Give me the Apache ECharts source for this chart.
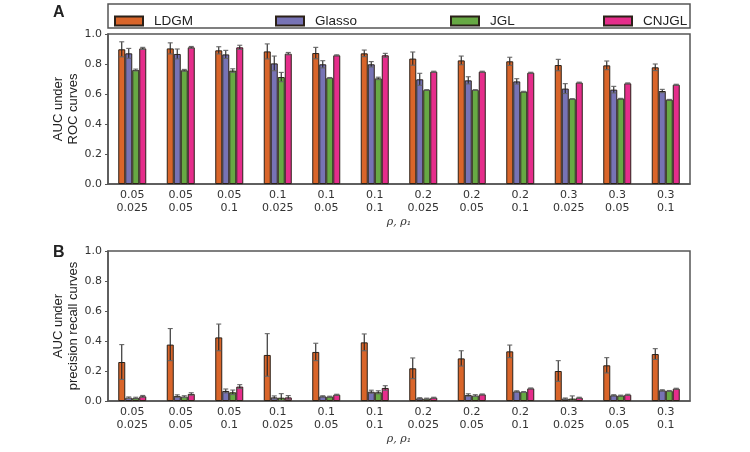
<!DOCTYPE html>
<html><head><meta charset="utf-8">
<script src="https://cdn.jsdelivr.net/npm/echarts@6/dist/echarts.min.js"></script>
<style>html,body{margin:0;padding:0;background:#fff}#c{width:750px;height:452px}</style>
</head><body><div id="c"></div>
<script>
const categories = ['0.05\n0.025','0.05\n0.05','0.05\n0.1','0.1\n0.025','0.1\n0.05','0.1\n0.1','0.2\n0.025','0.2\n0.05','0.2\n0.1','0.3\n0.025','0.3\n0.05','0.3\n0.1'];
const methods = ['LDGM','Glasso','JGL','CNJGL'];
const yTicks = [0, 0.2, 0.4, 0.6, 0.8, 1.0];

// Panel A: AUC under ROC curves (mean, error)
const rocLDGM      = [0.898,0.904,0.891,0.884,0.873,0.871,0.836,0.824,0.818,0.793,0.791,0.778];
const rocLDGMErr   = [0.050,0.037,0.024,0.050,0.038,0.022,0.044,0.029,0.027,0.038,0.029,0.022];
const rocGlasso    = [0.871,0.867,0.864,0.804,0.798,0.798,0.698,0.691,0.684,0.636,0.629,0.620];
const rocGlassoErr = [0.033,0.033,0.027,0.049,0.024,0.018,0.040,0.024,0.018,0.033,0.022,0.011];
const rocJGL       = [0.760,0.758,0.756,0.713,0.707,0.704,0.627,0.627,0.616,0.567,0.569,0.562];
const rocJGLErr    = [0.006,0.006,0.012,0.031,0.003,0.008,0.002,0.002,0.002,0.002,0.002,0.002];
const rocCNJGL     = [0.904,0.911,0.911,0.869,0.858,0.858,0.749,0.749,0.742,0.676,0.671,0.662];
const rocCNJGLErr  = [0.007,0.006,0.014,0.008,0.003,0.013,0.003,0.003,0.003,0.003,0.003,0.003];

// Panel B: AUC under precision recall curves (mean, error)
const prLDGM       = [0.260,0.376,0.424,0.307,0.327,0.391,0.218,0.284,0.331,0.200,0.238,0.313];
const prLDGMErr    = [0.116,0.107,0.089,0.142,0.058,0.056,0.069,0.051,0.042,0.069,0.051,0.036];
const prGlasso     = [0.022,0.033,0.067,0.024,0.031,0.062,0.018,0.040,0.064,0.016,0.038,0.071];
const prGlassoErr  = [0.005,0.008,0.013,0.010,0.004,0.010,0.004,0.008,0.004,0.004,0.004,0.004];
const prJGL        = [0.020,0.029,0.058,0.022,0.029,0.058,0.016,0.036,0.060,0.016,0.036,0.067];
const prJGLErr     = [0.005,0.006,0.015,0.027,0.003,0.010,0.003,0.006,0.003,0.018,0.003,0.003];
const prCNJGL      = [0.031,0.047,0.096,0.024,0.042,0.087,0.022,0.044,0.084,0.022,0.042,0.082];
const prCNJGLErr   = [0.006,0.008,0.013,0.012,0.003,0.015,0.003,0.003,0.003,0.003,0.003,0.003];

const colors = ['#d9652a','#7773b5','#67a944','#e52d8b'];
const BW = 7;

const chart = echarts.init(document.getElementById('c'), null, {renderer:'canvas'});

function errRender(k){
  return function(params, api){
    const i = api.value(0), m = api.value(1), e = api.value(2);
    const c = api.coord([i, m]);
    const x = c[0] + (k - 1.5) * BW;
    const yT = api.coord([i, m + e])[1];
    const yB = api.coord([i, Math.max(0, m - e)])[1];
    const s = {stroke:'#222', lineWidth:1.1};
    const cs = {stroke:'#666', lineWidth:1.1};
    return {type:'group', children:[
      {type:'line', shape:{x1:x,y1:yT,x2:x,y2:yB}, style:s},
      {type:'line', shape:{x1:x-2.5,y1:yT,x2:x+2.5,y2:yT}, style:cs},
      {type:'line', shape:{x1:x-2.5,y1:yB,x2:x+2.5,y2:yB}, style:cs}
    ]};
  };
}

const panels = [
  {means:[rocLDGM,rocGlasso,rocJGL,rocCNJGL], errs:[rocLDGMErr,rocGlassoErr,rocJGLErr,rocCNJGLErr]},
  {means:[prLDGM,prGlasso,prJGL,prCNJGL], errs:[prLDGMErr,prGlassoErr,prJGLErr,prCNJGLErr]}
];

const series = [];
panels.forEach((p, pi) => {
  methods.forEach((name, k) => {
    series.push({
      type:'bar', name:name, xAxisIndex:pi, yAxisIndex:pi,
      data:p.means[k], barWidth:BW, barGap:'0%',
      itemStyle:{color:colors[k], borderColor:'#2b2118', borderWidth:1},
      emphasis:{disabled:true}, z:2
    });
  });
  methods.forEach((name, k) => {
    series.push({
      type:'custom', name:'err'+pi+k, xAxisIndex:pi, yAxisIndex:pi,
      data:p.means[k].map((v,i)=>[i, v, p.errs[k][i]]),
      renderItem:errRender(k), z:5, silent:true
    });
  });
});

const fontTick = 'DejaVu Sans';
const fontText = 'Liberation Sans';
const grids = [
  {left:108, right:60, top:34, height:150},
  {left:108, right:60, top:251, height:150}
];
const yNames = ['AUC under\nROC curves', 'AUC under\nprecision recall curves'];

const legendLefts = [109, 270, 445, 598];

const option = {
  animation:false,
  backgroundColor:'#fff',
  grid: grids.map(g => Object.assign({show:true, borderColor:'#555', borderWidth:1.5, backgroundColor:'transparent'}, g)),
  xAxis: [0,1].map(i => ({
    type:'category', gridIndex:i, data:categories,
    axisLine:{show:true, lineStyle:{color:'#555', width:1.5}},
    axisTick:{show:false},
    axisLabel:{fontFamily:fontTick, fontSize:11, color:'#333', lineHeight:13, margin:5, interval:0},
    name:'ρ, ρ₁', nameLocation:'middle', nameGap:33, nameMoveOverlap:false,
    nameTextStyle:{fontFamily:'DejaVu Serif', fontStyle:'italic', fontSize:11, color:'#333'}
  })),
  yAxis: [0,1].map(i => ({
    type:'value', gridIndex:i, min:0, max:1, interval:0.2,
    axisLine:{show:true, lineStyle:{color:'#555', width:1.5}},
    axisTick:{show:true, length:3, lineStyle:{color:'#555'}},
    splitLine:{show:false},
    axisLabel:{fontFamily:fontTick, fontSize:11, color:'#333', margin:6, formatter:v=>v.toFixed(1)},
    name:yNames[i], nameLocation:'middle', nameGap:27, nameRotate:90, nameMoveOverlap:false,
    nameTextStyle:{fontFamily:fontText, fontSize:13, color:'#222', lineHeight:15}
  })),
  legend: methods.map((m, k) => ({
    data:[m], left:legendLefts[k], top:9, itemWidth:28, itemHeight:9, itemGap:8,
    icon:'rect', selectedMode:false,
    textStyle:{fontFamily:fontText, fontSize:13.5, color:'#222', padding:[0,0,0,6]}
  })),
  graphic:[
    {type:'rect', shape:{x:108, y:4, width:582, height:24}, style:{fill:'none', stroke:'#555', lineWidth:1.5}, z:-1},
    {type:'text', left:53, top:5, style:{text:'A', font:'bold 16px "Liberation Sans"', fill:'#222'}},
    {type:'text', left:53, top:245, style:{text:'B', font:'bold 16px "Liberation Sans"', fill:'#222'}}
  ],
  series:series
};
chart.setOption(option);
</script>
</body></html>
